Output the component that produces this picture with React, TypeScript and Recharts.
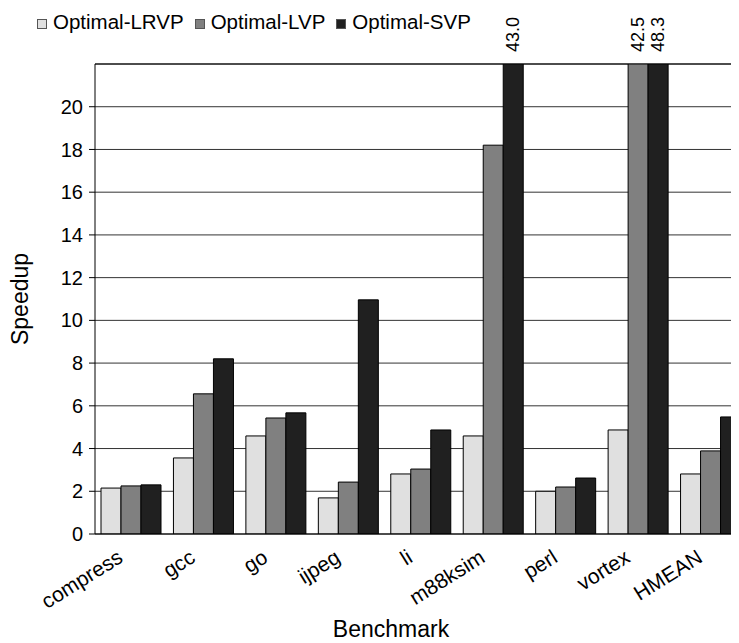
import React from 'react';
import {
  BarChart, Bar, XAxis, YAxis, CartesianGrid, Legend, LabelList, ReferenceLine,
} from 'recharts';

const BENCHMARKS = ['compress', 'gcc', 'go', 'ijpeg', 'li', 'm88ksim', 'perl', 'vortex', 'HMEAN'];
const LRVP = [2.15, 3.56, 4.59, 1.69, 2.81, 4.59, 2.0, 4.87, 2.81];
const LVP = [2.25, 6.56, 5.43, 2.43, 3.04, 18.2, 2.2, 42.5, 3.89];
const SVP = [2.3, 8.2, 5.67, 10.96, 4.87, 43.0, 2.62, 48.3, 5.48];
const Y_TICKS = [0, 2, 4, 6, 8, 10, 12, 14, 16, 18, 20];
const Y_MAX = 22;

const SERIES = [
  { key: 'lrvp', name: 'Optimal-LRVP', color: '#e0e0e0' },
  { key: 'lvp', name: 'Optimal-LVP', color: '#808080' },
  { key: 'svp', name: 'Optimal-SVP', color: '#202020' },
];

const data = BENCHMARKS.map((name, i) => ({
  name,
  lrvp: LRVP[i],
  lvp: LVP[i],
  svp: SVP[i],
}));

const FONT = '"Liberation Sans", Arial, sans-serif';

// ─── custom pieces ───────────────────────────────────────────────────

const XTick = (props: any) => {
  const { x, y, payload } = props;
  const tx = x - 7;
  const ty = y + 19;
  return (
    <text
      x={tx}
      y={ty}
      textAnchor="end"
      fontSize={21}
      fontFamily={FONT}
      fill="#000"
      transform={`rotate(-32, ${tx}, ${ty})`}
    >
      {payload.value}
    </text>
  );
};

// value labels for the bars that run off the top
const OverflowLabel = (props: any) => {
  const { x, y, width, height, value } = props;
  if (value <= Y_MAX) return null;
  const bottom = y + height;
  const top = bottom - height * (Y_MAX / value);
  const cx = x + width / 2 + 6;
  const cy = top - 12;
  return (
    <text
      x={cx}
      y={cy}
      textAnchor="start"
      fontSize={18}
      fontFamily={FONT}
      fill="#000"
      transform={`rotate(-90, ${cx}, ${cy})`}
    >
      {value.toFixed(1)}
    </text>
  );
};

const LegendContent = () => (
  <div style={{ display: 'flex', fontFamily: FONT, fontSize: 20.5, color: '#000', lineHeight: '24px', whiteSpace: 'nowrap' }}>
    {SERIES.map(s => (
      <div key={s.key} style={{ display: 'flex', alignItems: 'center', marginRight: 11 }}>
        <span
          style={{
            display: 'inline-block',
            width: 8,
            height: 8,
            background: s.color,
            border: '1px solid #555',
            marginRight: 6,
            marginTop: 3,
          }}
        />
        <span>{s.name}</span>
      </div>
    ))}
  </div>
);

export default function App() {
  return (
    <div style={{ width: 731, height: 635, overflow: 'hidden', position: 'relative' }}>
      <BarChart
        width={760}
        height={635}
        data={data}
        margin={{ top: 56, right: 21, bottom: 29, left: 0 }}
        barSize={20}
        barGap={0}
      >
        <CartesianGrid vertical={false} stroke="#333" strokeWidth={1} />
        <XAxis
          dataKey="name"
          height={80}
          tickLine={false}
          axisLine={{ stroke: '#000' }}
          interval={0}
          tick={<XTick />}
          label={(p: any) => {
            const vb = p.viewBox;
            return (
              <text x={vb.x + 296} y={vb.y + 103} textAnchor="middle" fontSize={23} fontFamily={FONT} fill="#000">
                Benchmark
              </text>
            );
          }}
        />
        <YAxis
          width={87}
          domain={[0, Y_MAX]}
          ticks={Y_TICKS}
          allowDataOverflow
          tickSize={6}
          tickMargin={6}
          axisLine={{ stroke: '#000' }}
          tickLine={{ stroke: '#000' }}
          tick={{ fill: '#000', fontSize: 20, fontFamily: FONT }}
          label={(p: any) => {
            const vb = p.viewBox;
            const cx = vb.x + 20;
            const cy = vb.y + vb.height / 2;
            return (
              <text x={cx} y={cy} textAnchor="middle" fontSize={23} fontFamily={FONT} fill="#000"
                transform={`rotate(-90, ${cx}, ${cy})`}>
                Speedup
              </text>
            );
          }}
        />
        <ReferenceLine y={Y_MAX} stroke="#000" strokeWidth={1} />
        <Legend
          layout="horizontal"
          verticalAlign="middle"
          align="center"
          content={<LegendContent />}
          wrapperStyle={{ top: 2, left: 29, width: 'auto' }}
        />
        {SERIES.map(s => (
          <Bar
            key={s.key}
            dataKey={s.key}
            name={s.name}
            fill={s.color}
            stroke="#000"
            strokeWidth={1}
            isAnimationActive={false}
          >
            <LabelList dataKey={s.key} content={<OverflowLabel />} />
          </Bar>
        ))}
      </BarChart>
    </div>
  );
}
